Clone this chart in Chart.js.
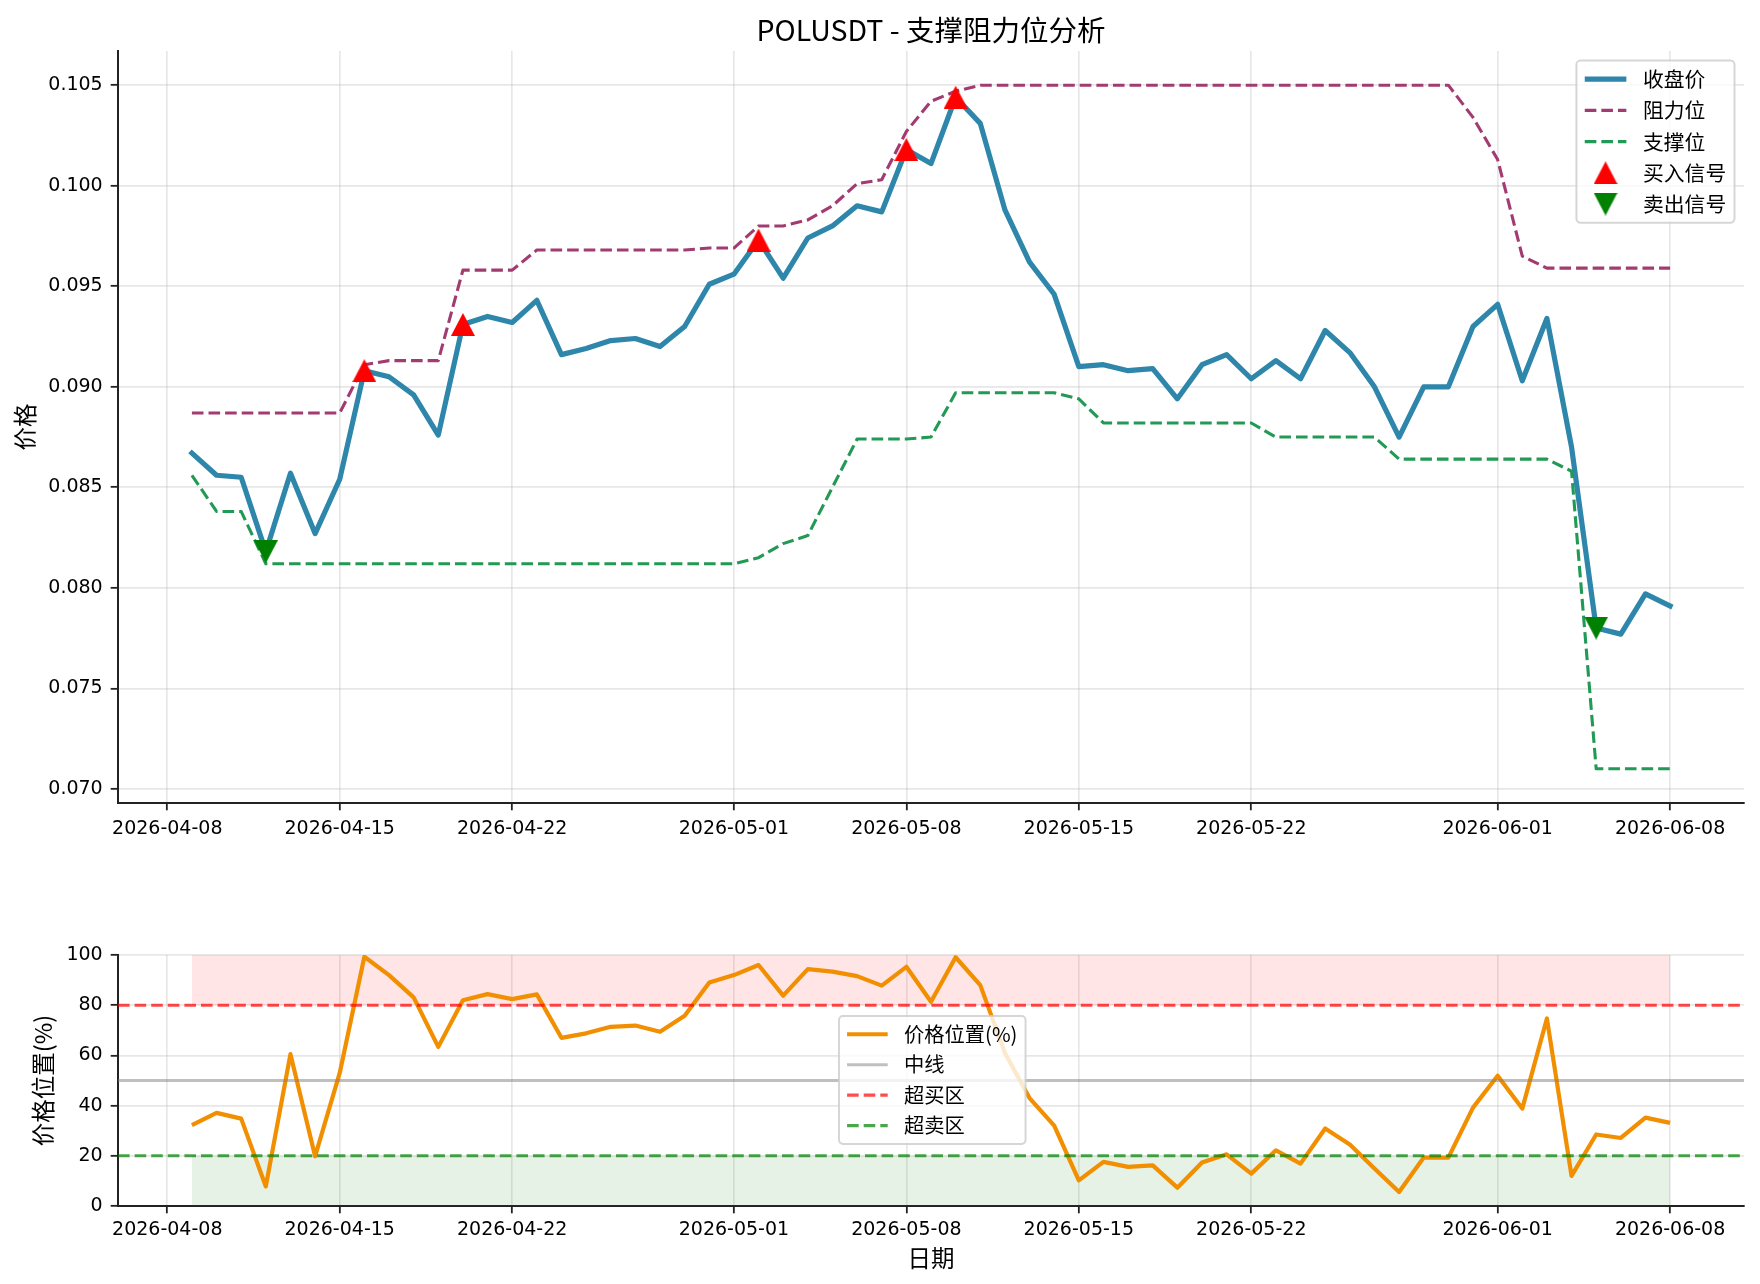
<!DOCTYPE html>
<html>
<head>
<meta charset="utf-8">
<script src="https://cdn.jsdelivr.net/npm/chart.js@4.4.1/dist/chart.umd.min.js"></script>
<style>
html,body{margin:0;padding:0;background:#fff;}
#wrap{position:relative;width:1760px;height:1284px;overflow:hidden;background:#fff;}
canvas{position:absolute;left:0;}
</style>
</head>
<body>
<div id="wrap">
<canvas id="topChart" width="1760" height="880" style="top:0;width:1760px;height:880px"></canvas>
<canvas id="bottomChart" width="1760" height="404" style="top:880px;width:1760px;height:404px"></canvas>
</div>
<script>
// ---------------- data ----------------
const dates = [
 '2026-04-09','2026-04-10','2026-04-11','2026-04-12','2026-04-13','2026-04-14','2026-04-15','2026-04-16','2026-04-17','2026-04-18',
 '2026-04-19','2026-04-20','2026-04-21','2026-04-22','2026-04-23','2026-04-24','2026-04-25','2026-04-26','2026-04-27','2026-04-28',
 '2026-04-29','2026-04-30','2026-05-01','2026-05-02','2026-05-03','2026-05-04','2026-05-05','2026-05-06','2026-05-07','2026-05-08',
 '2026-05-09','2026-05-10','2026-05-11','2026-05-12','2026-05-13','2026-05-14','2026-05-15','2026-05-16','2026-05-17','2026-05-18',
 '2026-05-19','2026-05-20','2026-05-21','2026-05-22','2026-05-23','2026-05-24','2026-05-25','2026-05-26','2026-05-27','2026-05-28',
 '2026-05-29','2026-05-30','2026-05-31','2026-06-01','2026-06-02','2026-06-03','2026-06-04','2026-06-05','2026-06-06','2026-06-07',
 '2026-06-08'];

const closePrice = [
 0.0867,0.0856,0.0855,0.0818,0.0857,0.0827,0.0854,0.0908,0.0905,0.0896,
 0.0876,0.0931,0.0935,0.0932,0.0943,0.0916,0.0919,0.0923,0.0924,0.0920,
 0.0930,0.0951,0.0956,0.0973,0.0954,0.0974,0.0980,0.0990,0.0987,0.1018,
 0.1011,0.1044,0.1031,0.0988,0.0962,0.0946,0.0910,0.0911,0.0908,0.0909,
 0.0894,0.0911,0.0916,0.0904,0.0913,0.0904,0.0928,0.0917,0.0900,0.0875,
 0.0900,0.0900,0.0930,0.0941,0.0903,0.0934,0.0870,0.0780,0.0777,0.0797,
 0.0791];

const resistance = [
 0.0887,0.0887,0.0887,0.0887,0.0887,0.0887,0.0887,0.0911,0.0913,0.0913,
 0.0913,0.0958,0.0958,0.0958,0.0968,0.0968,0.0968,0.0968,0.0968,0.0968,
 0.0968,0.0969,0.0969,0.0980,0.0980,0.0983,0.0990,0.1001,0.1003,0.1027,
 0.1042,0.1047,0.1050,0.1050,0.1050,0.1050,0.1050,0.1050,0.1050,0.1050,
 0.1050,0.1050,0.1050,0.1050,0.1050,0.1050,0.1050,0.1050,0.1050,0.1050,
 0.1050,0.1050,0.1034,0.1013,0.0965,0.0959,0.0959,0.0959,0.0959,0.0959,
 0.0959];

const support = [
 0.0856,0.0838,0.0838,0.0812,0.0812,0.0812,0.0812,0.0812,0.0812,0.0812,
 0.0812,0.0812,0.0812,0.0812,0.0812,0.0812,0.0812,0.0812,0.0812,0.0812,
 0.0812,0.0812,0.0812,0.0815,0.0822,0.0826,0.0850,0.0874,0.0874,0.0874,
 0.0875,0.0897,0.0897,0.0897,0.0897,0.0897,0.0894,0.0882,0.0882,0.0882,
 0.0882,0.0882,0.0882,0.0882,0.0875,0.0875,0.0875,0.0875,0.0875,0.0864,
 0.0864,0.0864,0.0864,0.0864,0.0864,0.0864,0.0858,0.0710,0.0710,0.0710,
 0.0710];

const pricePosition = [
 32.2,37.1,34.8,7.8,60.5,19.8,53.0,99.3,92.0,83.1,
 63.4,82.0,84.4,82.4,84.3,67.0,68.8,71.4,71.9,69.4,
 75.8,89.0,92.0,96.0,83.8,94.4,93.4,91.6,87.8,95.3,
 81.4,99.1,88.0,61.0,43.0,32.0,10.2,17.6,15.6,16.2,
 7.3,17.3,20.6,12.9,22.2,16.9,30.9,24.5,14.9,5.6,
 19.3,19.3,39.2,51.9,38.8,74.7,12.0,28.5,27.1,35.2,
 33.1];

const buySignalDates  = ['2026-04-16','2026-04-20','2026-05-02','2026-05-08','2026-05-10'];
const sellSignalDates = ['2026-04-12','2026-06-05'];

const dateTicks  = ['2026-04-08','2026-04-15','2026-04-22','2026-05-01','2026-05-08','2026-05-15','2026-05-22','2026-06-01','2026-06-08'];
const priceTicks = [0.070,0.075,0.080,0.085,0.090,0.095,0.100,0.105];
const positionTicks = [0,20,40,60,80,100];

const overboughtLevel = 80;
const midLevel = 50;
const oversoldLevel = 20;
const overboughtBand = [80, 100];
const oversoldBand = [0, 20];

// ---------------- helpers ----------------
const DAY = 86400000;
const toDay = s => { const p = s.split('-').map(Number); return Date.UTC(p[0], p[1]-1, p[2]) / DAY; };
const fromDay = v => new Date(Math.round(v) * DAY).toISOString().slice(0, 10);
const series = arr => dates.map((d, i) => ({x: toDay(d), y: arr[i]}));

const firstDay = toDay(dates[0]), lastDay = toDay(dates[dates.length - 1]);
const xMargin = (lastDay - firstDay) * 0.05;
const xMin = firstDay - xMargin, xMax = lastDay + xMargin;

const allPrices = closePrice.concat(resistance, support);
const pMin = Math.min(...allPrices), pMax = Math.max(...allPrices);
const yMin = pMin - (pMax - pMin) * 0.05, yMax = pMax + (pMax - pMin) * 0.05;

function triMarker(color, up) {
  const w = 24, h = 23;
  const c = document.createElement('canvas'); c.width = w; c.height = h;
  const g = c.getContext('2d'); g.fillStyle = color; g.beginPath();
  if (up) { g.moveTo(w/2, 0); g.lineTo(w, h); g.lineTo(0, h); }
  else { g.moveTo(0, 0); g.lineTo(w, 0); g.lineTo(w/2, h); }
  g.closePath(); g.fill();
  return c;
}
const upTri = triMarker('#ff0000', true);
const downTri = triMarker('#008000', false);

const TICK_FONT = "'DejaVu Sans', 'Noto Sans CJK SC', sans-serif";
const CJK_FONT = "'Noto Sans CJK SC', 'DejaVu Sans', sans-serif";
const GRID = 'rgba(176,176,176,0.3)';
const AXIS = '#222';
const DASH = [11.6, 5.0];

function makeLegend(cfg) {
  return {
    id: 'boxLegend',
    afterDraw(chart) {
      const ctx = chart.ctx, ca = chart.chartArea;
      const f = cfg.fontSize;
      const pad = 0.4 * f, hl = 2 * f, htp = 0.8 * f, gap = 0.5 * f, rowH = f;
      ctx.save();
      ctx.font = f + 'px ' + CJK_FONT;
      const ds = cfg.labels.map(l => chart.data.datasets.find(d => d.label === l));
      const tw = Math.max(...cfg.labels.map(l => ctx.measureText(l).width));
      const w = 2 * pad + hl + htp + tw;
      const h = 2 * pad + cfg.labels.length * rowH + (cfg.labels.length - 1) * gap;
      let x, y;
      if (cfg.corner === 'topright') { x = ca.right - cfg.margin - w; y = ca.top + cfg.margin; }
      else { x = ca.left + cfg.fx * (ca.right - ca.left); y = ca.top + cfg.fy * (ca.bottom - ca.top); }
      ctx.beginPath();
      if (ctx.roundRect) ctx.roundRect(x, y, w, h, 0.2 * f); else ctx.rect(x, y, w, h);
      ctx.fillStyle = 'rgba(255,255,255,0.8)'; ctx.fill();
      ctx.lineWidth = 2; ctx.strokeStyle = 'rgba(204,204,204,0.8)'; ctx.stroke();
      ds.forEach((d, k) => {
        const cy = y + pad + rowH / 2 + k * (rowH + gap);
        const hx = x + pad;
        if (d.showLine === false) {
          const img = d.pointStyle;
          ctx.drawImage(img, hx + hl / 2 - img.width / 2, cy - img.height / 2);
        } else {
          ctx.beginPath();
          ctx.setLineDash(d.borderDash || []);
          ctx.lineWidth = d.borderWidth; ctx.strokeStyle = d.borderColor; ctx.lineCap = 'butt';
          ctx.moveTo(hx, cy); ctx.lineTo(hx + hl, cy); ctx.stroke();
          ctx.setLineDash([]);
        }
        ctx.fillStyle = '#000'; ctx.textBaseline = 'middle'; ctx.textAlign = 'left';
        ctx.fillText(cfg.labels[k], hx + hl + htp, cy);
      });
      ctx.restore();
    }
  };
}

function xScale(height, tickPad, title) {
  const s = {
    type: 'linear', min: xMin, max: xMax,
    afterBuildTicks: sc => { sc.ticks = dateTicks.map(t => ({value: toDay(t)})); },
    afterFit: sc => { sc.height = height; },
    ticks: { callback: v => fromDay(v), font: {size: 19, family: TICK_FONT}, color: '#000', padding: tickPad, autoSkip: false, maxRotation: 0, minRotation: 0 },
    grid: { color: GRID, lineWidth: 1.67, tickColor: AXIS, tickLength: 7.3, tickWidth: 1.8 },
    border: { color: AXIS, width: 2 }
  };
  if (title) s.title = title;
  return s;
}

Chart.defaults.font.family = TICK_FONT;
Chart.defaults.color = '#000';

// ---------------- top chart ----------------
new Chart(document.getElementById('topChart'), {
  type: 'line',
  data: {
    datasets: [
      { label: '卖出信号', data: sellSignalDates.map(d => ({x: toDay(d), y: closePrice[dates.indexOf(d)]})),
        showLine: false, pointStyle: downTri, pointRadius: 12, order: 1 },
      { label: '买入信号', data: buySignalDates.map(d => ({x: toDay(d), y: closePrice[dates.indexOf(d)]})),
        showLine: false, pointStyle: upTri, pointRadius: 12, order: 2 },
      { label: '支撑位', data: series(support), borderColor: '#229954', borderWidth: 3.1, borderDash: DASH,
        pointRadius: 0, order: 3, borderJoinStyle: 'round' },
      { label: '阻力位', data: series(resistance), borderColor: '#A23B72', borderWidth: 3.1, borderDash: DASH,
        pointRadius: 0, order: 4, borderJoinStyle: 'round' },
      { label: '收盘价', data: series(closePrice), borderColor: '#2E86AB', borderWidth: 5.2,
        pointRadius: 0, order: 5, borderJoinStyle: 'round', borderCapStyle: 'square' }
    ]
  },
  options: {
    responsive: false, animation: false, devicePixelRatio: 1,
    layout: { padding: { left: 0, right: 16, top: 0, bottom: 0 } },
    plugins: {
      legend: { display: false }, tooltip: { enabled: false },
      title: { display: true, text: 'POLUSDT - 支撑阻力位分析', fullSize: false,
        font: { size: 28.5, family: CJK_FONT, weight: 'normal' }, color: '#000', padding: { top: 13, bottom: 3.8 } }
    },
    scales: {
      x: xScale(77, 7),
      y: {
        type: 'linear', min: yMin, max: yMax,
        afterBuildTicks: sc => { sc.ticks = priceTicks.map(v => ({value: v})); },
        afterFit: sc => { sc.width = 118; },
        ticks: { callback: v => v.toFixed(3), font: {size: 19, family: TICK_FONT}, color: '#000', padding: 8 },
        grid: { color: GRID, lineWidth: 1.67, tickColor: AXIS, tickLength: 7.3, tickWidth: 1.8 },
        border: { color: AXIS, width: 2 },
        title: { display: true, text: '价格', font: { size: 23.5, family: CJK_FONT }, color: '#000', padding: { top: 11, bottom: 0 } }
      }
    }
  },
  plugins: [makeLegend({ labels: ['收盘价','阻力位','支撑位','买入信号','卖出信号'], fontSize: 20.8, corner: 'topright', margin: 9.5 })]
});

// ---------------- bottom chart ----------------
new Chart(document.getElementById('bottomChart'), {
  type: 'line',
  data: {
    datasets: [
      { label: '超卖区', data: [{x: xMin, y: oversoldLevel}, {x: xMax, y: oversoldLevel}],
        borderColor: 'rgba(0,128,0,0.7)', borderWidth: 3.1, borderDash: DASH, pointRadius: 0, order: 1 },
      { label: '超买区', data: [{x: xMin, y: overboughtLevel}, {x: xMax, y: overboughtLevel}],
        borderColor: 'rgba(255,0,0,0.7)', borderWidth: 3.1, borderDash: DASH, pointRadius: 0, order: 2 },
      { label: '中线', data: [{x: xMin, y: midLevel}, {x: xMax, y: midLevel}],
        borderColor: 'rgba(128,128,128,0.5)', borderWidth: 3.1, pointRadius: 0, order: 3 },
      { label: '价格位置(%)', data: series(pricePosition), borderColor: '#F18F01', borderWidth: 4.2,
        pointRadius: 0, order: 4, borderJoinStyle: 'round' },
      { label: 'overboughtFill', data: dates.map(d => ({x: toDay(d), y: overboughtBand[1]})),
        fill: { value: overboughtBand[0] }, backgroundColor: 'rgba(255,0,0,0.1)', borderWidth: 0, borderColor: 'rgba(0,0,0,0)', pointRadius: 0, order: 6 },
      { label: 'oversoldFill', data: dates.map(d => ({x: toDay(d), y: oversoldBand[1]})),
        fill: { value: oversoldBand[0] }, backgroundColor: 'rgba(0,128,0,0.1)', borderWidth: 0, borderColor: 'rgba(0,0,0,0)', pointRadius: 0, order: 7 }
    ]
  },
  options: {
    responsive: false, animation: false, devicePixelRatio: 1,
    layout: { padding: { left: 0, right: 16, top: 75, bottom: 0 } },
    plugins: { legend: { display: false }, tooltip: { enabled: false }, title: { display: false } },
    scales: {
      x: xScale(78, 5, { display: true, text: '日期', font: { size: 23.5, family: CJK_FONT }, color: '#000', padding: { top: 0, bottom: 12 } }),
      y: {
        type: 'linear', min: 0, max: 100,
        afterBuildTicks: sc => { sc.ticks = positionTicks.map(v => ({value: v})); },
        afterFit: sc => { sc.width = 118; },
        ticks: { callback: v => String(v), font: {size: 19, family: TICK_FONT}, color: '#000', padding: 8 },
        grid: { color: GRID, lineWidth: 1.67, tickColor: AXIS, tickLength: 7.3, tickWidth: 1.8 },
        border: { color: AXIS, width: 2 },
        title: { display: true, text: '价格位置(%)', font: { size: 23.5, family: CJK_FONT }, color: '#000', padding: { top: 29, bottom: 0 } }
      }
    }
  },
  plugins: [makeLegend({ labels: ['价格位置(%)','中线','超买区','超卖区'], fontSize: 20.3, corner: 'frac', fx: 0.4434, fy: 0.243 })]
});
</script>
</body>
</html>
